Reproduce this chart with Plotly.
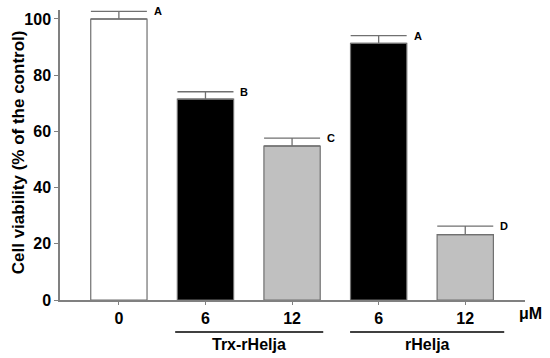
import plotly.graph_objects as go

categories = ["0", "6", "12", "6", "12"]
values = [100.0, 71.5, 54.8, 91.3, 23.3]
errors = [2.7, 2.6, 2.8, 2.8, 3.0]
letters = ["A", "B", "C", "A", "D"]
colors = ["#ffffff", "#000000", "#c0c0c0", "#000000", "#c0c0c0"]
groups = [("Trx-rHelja", 0.65, 2.36), ("rHelja", 2.67, 4.45)]
unit_label = "μM"
y_ticks = [0, 20, 40, 60, 80, 100]

xs = list(range(len(categories)))
FONT = "Liberation Sans, Arial, sans-serif"

fig = go.Figure()
fig.add_trace(go.Bar(
    x=xs, y=values, width=0.65,
    marker=dict(color=colors, line=dict(color="#707070", width=1.2)),
    error_y=dict(type="data", array=errors, arrayminus=[0] * len(errors),
                 symmetric=False, color="#707070", thickness=1.3, width=28),
    showlegend=False,
))

annotations = []
for x, v, e, l in zip(xs, values, errors, letters):
    annotations.append(dict(x=x, y=v + e, xref="x", yref="y", text="<b>%s</b>" % l,
                            showarrow=False, xanchor="left", xshift=33, yshift=0,
                            font=dict(size=11, color="black", family=FONT)))
shapes = []
for name, x0, x1 in groups:
    shapes.append(dict(type="line", xref="x", yref="paper", x0=x0, x1=x1,
                       y0=-0.11, y1=-0.11, line=dict(color="black", width=1.5)))
    annotations.append(dict(x=(x0 + x1) / 2, y=-0.155, xref="x", yref="paper",
                            text="<b>%s</b>" % name, showarrow=False, yanchor="middle",
                            font=dict(size=16, color="black", family=FONT)))
annotations.append(dict(x=0.982, y=-0.045, xref="paper", yref="paper",
                        text="<b>%s</b>" % unit_label, showarrow=False,
                        xanchor="left", yanchor="middle",
                        font=dict(size=16, color="black", family=FONT)))
annotations.append(dict(x=-0.09, y=0.51, xref="paper", yref="paper",
                        text="<b>Cell viability (% of the control)</b>",
                        textangle=-90, showarrow=False,
                        xanchor="center", yanchor="middle",
                        font=dict(size=17, color="black", family=FONT)))

fig.update_layout(
    width=550, height=358,
    margin=dict(l=60, r=25, t=10, b=58),
    paper_bgcolor="white", plot_bgcolor="white",
    font=dict(family=FONT, color="black"),
    shapes=shapes, annotations=annotations,
    hovermode=False,
    xaxis=dict(range=[-0.68, 4.69], tickmode="array", tickvals=xs,
               ticktext=["<b>%s</b>" % c for c in categories],
               tickfont=dict(size=16, family=FONT), showline=True,
               linecolor="#808080", linewidth=1.5, ticks="outside", ticklen=3,
               tickcolor="#808080", showgrid=False, zeroline=False,
               automargin=False),
    yaxis=dict(range=[0, 103.2], tickmode="array", tickvals=y_ticks,
               ticktext=["<b>%d</b>" % t for t in y_ticks],
               tickfont=dict(size=16, family=FONT), showline=True,
               linecolor="#808080", linewidth=1.5, ticks="outside", ticklen=4,
               tickcolor="#808080", showgrid=False, zeroline=False,
               automargin=False),
)

# remove the default 8px page margin so the 550x358 figure fills the window exactly
fig.write_html("out.html", config={"displayModeBar": False},
               post_script="document.body.style.margin='0';")
